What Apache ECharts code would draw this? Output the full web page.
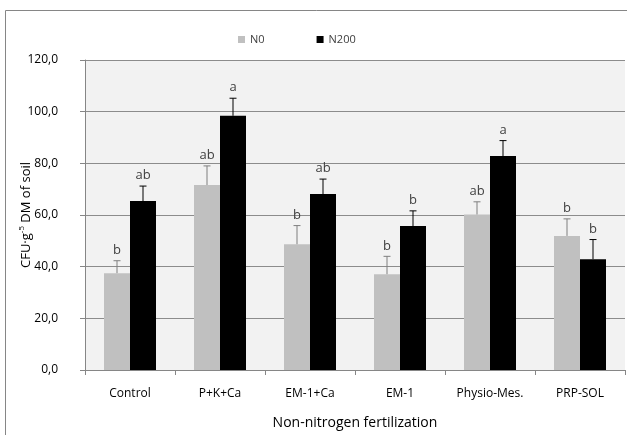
<!DOCTYPE html>
<html><head><meta charset="utf-8">
<script src="https://cdn.jsdelivr.net/npm/echarts@6/dist/echarts.min.js"></script>
<style>html,body{margin:0;padding:0;background:#fff}#c{width:627px;height:435px}</style>
</head><body><div id="c"></div>
<script>
const categories = ['Control', 'P+K+Ca', 'EM-1+Ca', 'EM-1', 'Physio-Mes.', 'PRP-SOL'];
const seriesNames = ['N0', 'N200'];
const n0Values = [37.5, 71.6, 48.7, 37.1, 60.2, 51.9];
const n200Values = [65.4, 98.4, 68.1, 55.7, 82.8, 42.9];
const n0Errors = [4.8, 7.4, 7.2, 6.9, 4.9, 6.6];
const n200Errors = [5.8, 6.8, 5.8, 5.9, 6.0, 7.6];
const n0Letters = ['b', 'ab', 'b', 'b', 'ab', 'b'];
const n200Letters = ['ab', 'a', 'ab', 'b', 'a', 'b'];
const yTicks = [0, 20, 40, 60, 80, 100, 120];

const FONT = 'Open Sans';
const chart = echarts.init(document.getElementById('c'), null, {renderer: 'canvas'});

function errSeries(name, vals, errs, letters, side, color) {
  return {
    type: 'custom',
    name: name + ' err',
    z: 10,
    data: vals.map((v, i) => [i, v, errs[i]]),
    renderItem: function (params, api) {
      const i = api.value(0), v = api.value(1), e = api.value(2);
      const band = api.size([1, 0])[0];
      const off = side * band * 13 / 90;
      const base = api.coord([i, v]);
      const top = api.coord([i, v + e]);
      const x = base[0] + off;
      const lineStyle = {stroke: color, lineWidth: 1};
      return {
        type: 'group',
        children: [
          {type: 'line', shape: {x1: x, y1: base[1], x2: x, y2: top[1]}, style: lineStyle},
          {type: 'line', shape: {x1: x - 3.5, y1: top[1], x2: x + 3.5, y2: top[1]}, style: lineStyle},
          {type: 'text', style: {text: letters[i], x: x, y: top[1] - 4, textAlign: 'center', textVerticalAlign: 'bottom', font: '13px "' + FONT + '"', fill: '#404040'}}
        ]
      };
    }
  };
}

chart.setOption({
  animation: false,
  backgroundColor: '#ffffff',
  textStyle: {fontFamily: FONT},
  legend: {
    data: seriesNames,
    top: 29,
    left: 233,
    itemGap: 52,
    itemWidth: 7,
    itemHeight: 7,
    icon: 'rect',
    textStyle: {fontSize: 11, color: '#404040', fontFamily: FONT}
  },
  grid: {left: 85, right: 2, top: 60, bottom: 62, show: true, backgroundColor: '#f2f2f2', borderWidth: 0},
  xAxis: {
    type: 'category',
    data: categories,
    name: 'Non-nitrogen fertilization',
    nameLocation: 'middle',
    nameGap: 46,
    nameMoveOverlap: false,
    nameTextStyle: {fontSize: 14, color: '#000', fontFamily: FONT},
    axisLine: {lineStyle: {color: '#868686'}},
    axisTick: {show: true, length: 5, lineStyle: {color: '#868686'}},
    axisLabel: {fontSize: 12, color: '#000', margin: 18, fontFamily: FONT}
  },
  yAxis: {
    type: 'value',
    min: 0, max: 120, interval: 20,
    name: '{n|CFU·g}{s|-5}{n| DM of soil}',
    nameLocation: 'middle',
    nameGap: 51,
    nameMoveOverlap: false,
    nameRotate: 90,
    nameTextStyle: {
      rich: {
        n: {fontSize: 13, color: '#000', fontFamily: FONT},
        s: {fontSize: 8, color: '#000', fontFamily: FONT, verticalAlign: 'top', padding: [0, 0, 8, 0]}
      }
    },
    axisLine: {show: true, lineStyle: {color: '#868686'}},
    axisTick: {show: true, length: 5, lineStyle: {color: '#868686'}},
    axisLabel: {fontSize: 12, color: '#000', margin: 27, formatter: v => yTicks.includes(v) ? v.toFixed(1).replace('.', ',') : '', fontFamily: FONT},
    splitLine: {lineStyle: {color: '#8c8c8c', width: 1}}
  },
  series: [
    {name: 'N0', type: 'bar', data: n0Values, barWidth: 26, barGap: '0%', itemStyle: {color: '#c0c0c0'}},
    {name: 'N200', type: 'bar', data: n200Values, barWidth: 26, barGap: '0%', itemStyle: {color: '#000000'}},
    errSeries('N0', n0Values, n0Errors, n0Letters, -1, '#7f7f7f'),
    errSeries('N200', n200Values, n200Errors, n200Letters, 1, '#000000')
  ],
  graphic: [
    {type: 'rect', shape: {x: 5.5, y: 10.5, width: 640, height: 440}, style: {fill: 'none', stroke: '#868686', lineWidth: 1}, silent: true, z: -1}
  ]
});
</script></body></html>
